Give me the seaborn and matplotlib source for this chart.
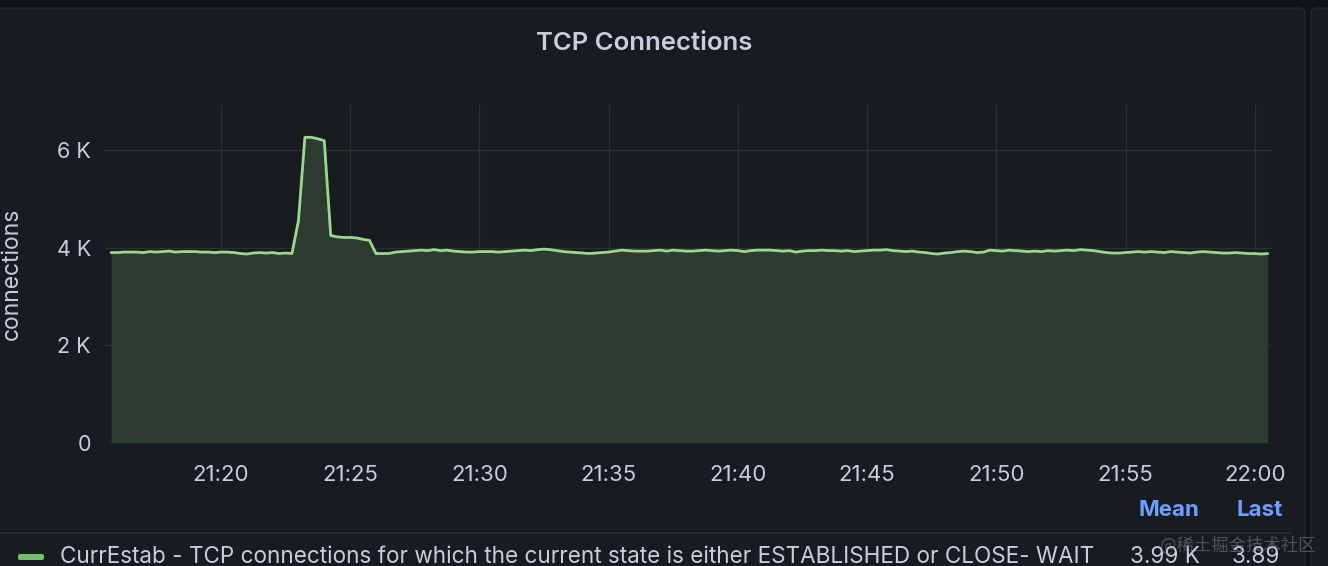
import numpy as np
import pandas as pd
import matplotlib
matplotlib.use("Agg")
import matplotlib.pyplot as plt
import seaborn as sns
from matplotlib.patches import FancyBboxPatch
from matplotlib.lines import Line2D
from matplotlib.transforms import IdentityTransform

# ---------------- data ----------------
start_time = "2023-01-01 21:15:45"
sample_step = "15s"
connections_k = [
    3.90, 3.90, 3.91, 3.91, 3.91, 3.90, 3.92, 3.91, 3.92, 3.93, 3.91, 3.92,
    3.92, 3.92, 3.91, 3.91, 3.90, 3.91, 3.91, 3.90, 3.88, 3.87, 3.89, 3.90,
    3.89, 3.90, 3.88, 3.89, 3.88, 4.55, 6.26, 6.26, 6.23, 6.19, 4.25, 4.22,
    4.21, 4.21, 4.20, 4.17, 4.15, 3.88, 3.88, 3.88, 3.91, 3.92, 3.93, 3.94,
    3.95, 3.94, 3.96, 3.94, 3.95, 3.93, 3.92, 3.91, 3.91, 3.92, 3.92, 3.92,
    3.91, 3.92, 3.93, 3.94, 3.95, 3.94, 3.96, 3.97, 3.96, 3.94, 3.92, 3.91,
    3.90, 3.89, 3.88, 3.89, 3.90, 3.91, 3.93, 3.95, 3.94, 3.93, 3.93, 3.93,
    3.94, 3.95, 3.93, 3.95, 3.94, 3.93, 3.93, 3.94, 3.95, 3.94, 3.93, 3.94,
    3.95, 3.94, 3.92, 3.94, 3.95, 3.95, 3.95, 3.94, 3.93, 3.94, 3.91, 3.93,
    3.94, 3.94, 3.95, 3.94, 3.94, 3.93, 3.94, 3.92, 3.93, 3.94, 3.95, 3.95,
    3.96, 3.94, 3.93, 3.92, 3.93, 3.91, 3.90, 3.88, 3.87, 3.89, 3.90, 3.92,
    3.93, 3.92, 3.90, 3.91, 3.95, 3.94, 3.93, 3.95, 3.94, 3.93, 3.92, 3.93,
    3.92, 3.94, 3.93, 3.94, 3.95, 3.94, 3.96, 3.95, 3.94, 3.92, 3.90, 3.89,
    3.89, 3.90, 3.91, 3.92, 3.91, 3.92, 3.91, 3.90, 3.92, 3.91, 3.90, 3.89,
    3.91, 3.92, 3.91, 3.90, 3.89, 3.89, 3.90, 3.89, 3.88, 3.88, 3.87, 3.88,
]
x_tick_labels = ["21:20", "21:25", "21:30", "21:35", "21:40",
                 "21:45", "21:50", "21:55", "22:00"]
y_tick_values = [0, 2000, 4000, 6000]
y_tick_labels = ["0", "2 K", "4 K", "6 K"]
title_text = "TCP Connections"
y_axis_label = "connections"
series_label = ("CurrEstab - TCP connections for which the current state is "
                "either ESTABLISHED or CLOSE- WAIT")
stat_headers = ["Mean", "Last"]
stat_values = ["3.99 K", "3.89"]
watermark = "@稀土掘金技术社区"

day = "2023-01-01 "
times = pd.date_range(start_time, periods=len(connections_k), freq=sample_step)
df = pd.DataFrame({"time": times,
                   "connections": np.array(connections_k) * 1000.0})
tick_times = pd.to_datetime([day + t for t in x_tick_labels])

# ---------------- style ----------------
sns.set_theme(style="dark")
plt.rcParams["font.family"] = ["Inter", "DejaVu Sans"]

W, H = 1328, 566
BG = "#111217"
PANEL = "#181b1f"
TXT = "#ccccdc"
GRID = "#2c2f35"
LINE = "#9cd68f"
FILL = "#2e3b30"

fig = plt.figure(figsize=(W / 100, H / 100), dpi=100, facecolor=BG)

def fx(x):
    return x / W

def fy(y):
    return 1 - y / H

# panels (pixel coords, origin bottom-left)
fig.patches.append(FancyBboxPatch((-20, -20), 1325, H - 8 + 20,
                                  boxstyle="round,pad=0,rounding_size=6",
                                  transform=IdentityTransform(),
                                  facecolor=PANEL, edgecolor="#24272c",
                                  linewidth=1, zorder=-5))
fig.patches.append(FancyBboxPatch((1311, -20), 60, H - 8 + 20,
                                  boxstyle="round,pad=0,rounding_size=6",
                                  transform=IdentityTransform(),
                                  facecolor=PANEL, edgecolor="#24272c",
                                  linewidth=1, zorder=-5))

# ---------------- axes ----------------
ax_l, ax_r, ax_t, ax_b = 105, 1272, 105, 443
ax = fig.add_axes([fx(ax_l), fy(ax_b), fx(ax_r - ax_l), (ax_b - ax_t) / H])
ax.set_zorder(1)
ax.set_facecolor(PANEL)

ax.fill_between(df["time"], df["connections"], 0, color=FILL, linewidth=0,
                zorder=2)
sns.lineplot(data=df, x="time", y="connections", ax=ax, color=LINE,
             linewidth=2, zorder=3)

ax.set_xlim(pd.Timestamp(day + "21:15:31"), pd.Timestamp(day + "22:00:40"))
ax.set_ylim(0, 6922)
ax.set_xticks(tick_times)
ax.set_xticklabels(x_tick_labels)
ax.set_yticks(y_tick_values)
ax.set_yticklabels(y_tick_labels)
ax.tick_params(axis="x", length=0, pad=16, labelsize=16, labelcolor=TXT)
ax.tick_params(axis="y", length=0, pad=10, labelsize=15.5, labelcolor=TXT)
ax.grid(True, color=GRID, linewidth=1)
ax.set_axisbelow(True)
for s in ax.spines.values():
    s.set_visible(False)
ax.set_xlabel("")
ax.set_ylabel("")

# ---------------- texts ----------------
fig.text(fx(644), fy(44), title_text, ha="center", va="center",
         fontsize=18.5, fontweight="semibold", color=TXT)
fig.text(fx(12), fy(274), y_axis_label, ha="center", va="center",
         rotation=90, fontsize=16.5, color=TXT)

# separator line
fig.add_artist(Line2D([fx(0), fx(1290)], [fy(533), fy(533)],
                      transform=fig.transFigure, color="#24272c",
                      linewidth=1.5))

# legend swatch
fig.patches.append(FancyBboxPatch((18, H - 560), 26, 6,
                                  boxstyle="round,pad=0,rounding_size=2",
                                  transform=IdentityTransform(),
                                  facecolor="#73bf69", edgecolor="none"))
fig.text(fx(60), fy(557), series_label, ha="left", va="center",
         fontsize=16.2, color=TXT)

# stat headers and values
fig.text(fx(1169), fy(510), stat_headers[0], ha="center", va="center",
         fontsize=16, fontweight="bold", color="#6e9fff")
fig.text(fx(1260), fy(510), stat_headers[1], ha="center", va="center",
         fontsize=16, fontweight="bold", color="#6e9fff")
fig.text(fx(1200), fy(557), stat_values[0], ha="right", va="center",
         fontsize=16.2, color=TXT)
fig.text(fx(1280), fy(557), stat_values[1], ha="right", va="center",
         fontsize=16.2, color=TXT)

fig.text(fx(1238), fy(546), watermark, ha="center", va="center",
         fontsize=12.5, color="#8a8a92", alpha=0.5,
         family=["Noto Sans CJK SC", "DejaVu Sans"])

fig.savefig("out.png", dpi=100, facecolor=BG)
